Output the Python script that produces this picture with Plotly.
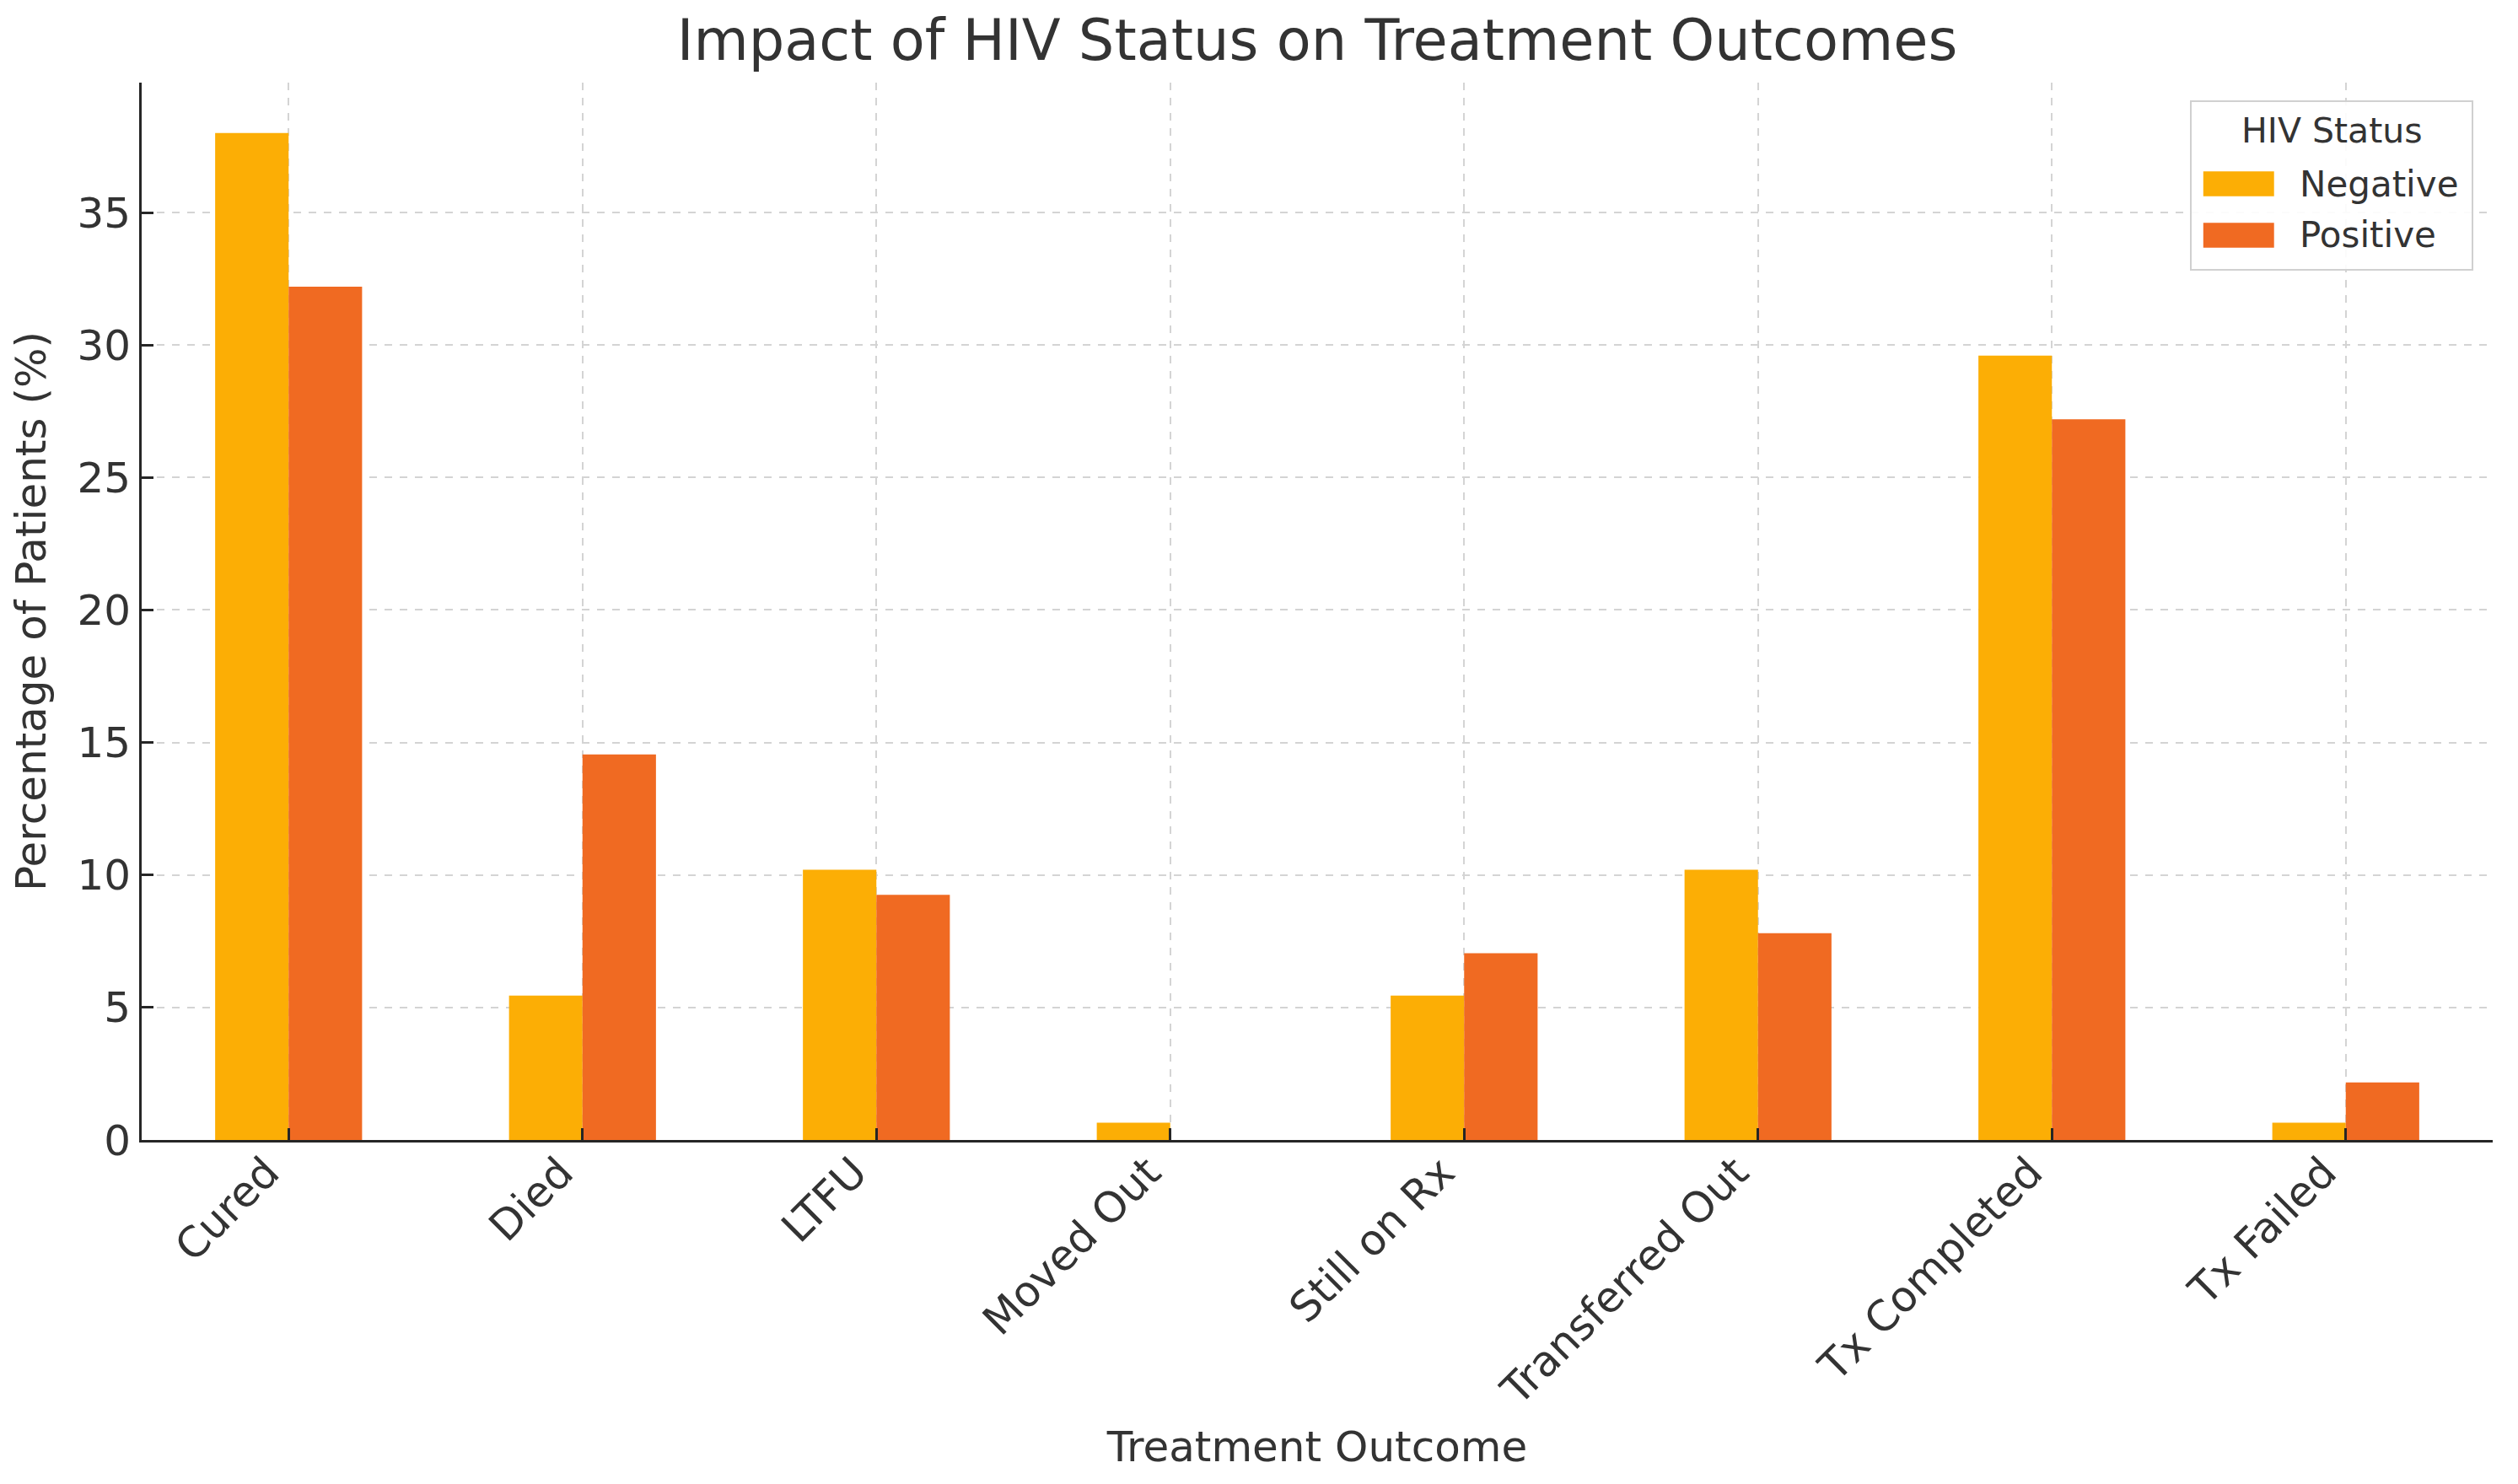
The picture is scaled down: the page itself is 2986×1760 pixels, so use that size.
import plotly.graph_objects as go

categories = ["Cured", "Died", "LTFU", "Moved Out", "Still on Rx",
              "Transferred Out", "Tx Completed", "Tx Failed"]
negative = [38.0, 5.45, 10.2, 0.65, 5.45, 10.2, 29.6, 0.65]
positive = [32.2, 14.55, 9.25, 0.0, 7.05, 7.8, 27.2, 2.17]
series_names = ["Negative", "Positive"]
series_colors = ["#FCAE05", "#F06A22"]
legend_title = "HIV Status"
y_ticks = [0, 5, 10, 15, 20, 25, 30, 35]

W, H = 2986, 1760
FONT = "DejaVu Sans"
TXT = "#333333"
AX = "#262626"

fig = go.Figure()
for name, vals, col in zip(series_names, [negative, positive], series_colors):
    fig.add_trace(go.Bar(x=categories, y=vals, name=name, showlegend=False,
                         marker=dict(color=col, line=dict(width=0))))

# legend drawn as a boxed key (paper coordinates), matplotlib-style swatches
shapes = [dict(type="rect", xref="paper", yref="paper",
               x0=0.8716, x1=0.9914, y0=0.8230, y1=0.9825,
               line=dict(color="#d0d0d0", width=2), fillcolor="rgba(255,255,255,0.9)",
               layer="above")]
annotations = [dict(text=legend_title, xref="paper", yref="paper",
                    x=0.9318, y=0.9545, xanchor="center", yanchor="middle",
                    showarrow=False, font=dict(size=41, color=TXT, family=FONT))]
row_y = [0.9043, 0.8557]
for name, col, yc in zip(series_names, series_colors, row_y):
    shapes.append(dict(type="rect", xref="paper", yref="paper",
                       x0=0.8769, x1=0.9070, y0=yc - 0.0118, y1=yc + 0.0118,
                       line=dict(width=0), fillcolor=col, layer="above"))
    annotations.append(dict(text=name, xref="paper", yref="paper",
                            x=0.9171, y=yc, xanchor="left", yanchor="middle",
                            showarrow=False, font=dict(size=42, color=TXT, family=FONT)))

fig.update_layout(
    width=W, height=H,
    paper_bgcolor="white", plot_bgcolor="white",
    margin=dict(l=160, r=38, t=90, b=416, autoexpand=False),
    barmode="group", bargap=0.5, bargroupgap=0.0,
    font=dict(family=FONT, color=TXT, size=50),
    title=dict(text="Impact of HIV Status on Treatment Outcomes",
               x=0.5, xref="paper", xanchor="center",
               y=1 - 40 / H, yref="container", yanchor="middle",
               font=dict(size=67, color=TXT, family=FONT)),
    shapes=shapes,
    annotations=annotations,
    showlegend=False,
)

fig.update_xaxes(
    type="category", range=[-0.5, 7.5],
    tickangle=-45, tickfont=dict(size=50, color=TXT),
    ticklabelshift=-26, ticklabelstandoff=-14,
    showline=True, linecolor=AX, linewidth=3,
    ticks="inside", ticklen=14, tickwidth=3, tickcolor=AX,
    showgrid=True, gridcolor="#d4d4d4", gridwidth=2, griddash="dash",
    title=dict(text="Treatment Outcome", font=dict(size=50, color=TXT), standoff=22),
)
fig.update_yaxes(
    range=[0, 39.9], tickvals=y_ticks,
    tickfont=dict(size=50, color=TXT),
    showline=True, linecolor=AX, linewidth=3,
    ticks="inside", ticklen=14, tickwidth=3, tickcolor=AX,
    showgrid=True, gridcolor="#d4d4d4", gridwidth=2, griddash="dash",
    zeroline=False,
    title=dict(text="Percentage of Patients (%)", font=dict(size=50, color=TXT), standoff=28),
)

fig.write_html("out.html")
